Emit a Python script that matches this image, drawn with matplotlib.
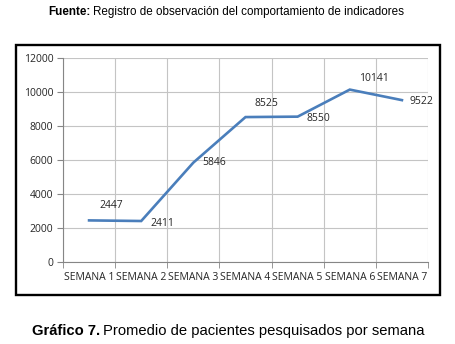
import matplotlib
matplotlib.use('Agg')
import matplotlib.pyplot as plt
from matplotlib.patches import Rectangle
import numpy as np

semanas = ['SEMANA 1', 'SEMANA 2', 'SEMANA 3', 'SEMANA 4',
           'SEMANA 5', 'SEMANA 6', 'SEMANA 7']
promedio = [2447, 2411, 5846, 8525, 8550, 10141, 9522]
yticks = [0, 2000, 4000, 6000, 8000, 10000, 12000]

# label offsets (points) relative to each data point
label_dx = [16, 15, 15, 15, 15, 17, 14]
label_dy = [11, -2, 0, 10, -1, 8, -1]

_LINE = '#4a7ebb'
_GRID = '#c4c4c4'
_AXIS = '#868686'
_TEXT = '#262626'

fig = plt.figure(figsize=(4.55, 3.44), dpi=100)
fig.patch.set_facecolor('white')

chart_font = ['Open Sans', 'DejaVu Sans']
title_font = ['Liberation Sans', 'DejaVu Sans']


def _two_part(x_px, y_px, bold, rest, size):
    """Bold lead-in followed by regular text, left aligned at a pixel spot."""
    y = 1 - y_px / 344
    t = fig.text(x_px / 455, y, bold, ha='left', va='center', fontsize=size,
                 fontweight='bold', family=title_font, color='black')
    fig.canvas.draw()
    bb = t.get_window_extent()
    fig.text(bb.x1 / fig.bbox.width + 3 / 455, y, rest, ha='left',
             va='center', fontsize=size, family=title_font, color='black')


# chart frame
fig.patches.append(Rectangle((16 / 455, 1 - 295 / 344), 424 / 455, 250 / 344,
                             transform=fig.transFigure, fill=False,
                             edgecolor='black', linewidth=1.7, zorder=0))

ax = fig.add_axes([63 / 455, 1 - 262 / 344, 365 / 455, 204 / 344])
x = np.arange(len(semanas))
ax.plot(x, promedio, color=_LINE, linewidth=1.9, solid_joinstyle='miter', zorder=3)

for xi, v, dx, dy in zip(x, promedio, label_dx, label_dy):
    ax.annotate(str(v), (xi, v), xytext=(dx, dy), textcoords='offset points',
                ha='center', va='center', fontsize=7.5, color=_TEXT,
                family=chart_font)

ax.set_xlim(-0.5, len(semanas) - 0.5)
ax.set_ylim(0, 12000)
ax.set_yticks(yticks)
ax.set_yticklabels([str(v) for v in yticks], family=chart_font, fontsize=7.5,
                   color=_TEXT)
ax.set_xticks(x)
ax.set_xticklabels(semanas, family=chart_font, fontsize=7.5, color=_TEXT)
ax.set_xticks(np.arange(len(semanas) + 1) - 0.5, minor=True)

ax.grid(axis='y', which='major', color=_GRID, linewidth=0.8)
ax.grid(axis='x', which='minor', color=_GRID, linewidth=0.8)
ax.set_axisbelow(True)
ax.tick_params(axis='x', which='major', length=0, pad=7)
ax.tick_params(axis='x', which='minor', length=4, color=_AXIS, direction='out')
ax.tick_params(axis='y', length=4, color=_AXIS, pad=3)

for side in ('top', 'right'):
    ax.spines[side].set_visible(False)
for side in ('left', 'bottom'):
    ax.spines[side].set_color(_AXIS)
    ax.spines[side].set_linewidth(0.8)

_two_part(48, 12, 'Fuente:',
          'Registro de observación del comportamiento de indicadores', 8.4)
_two_part(32, 331, 'Gráfico 7.',
          'Promedio de pacientes pesquisados por semana', 10.6)

fig.savefig('out.png', dpi=100, facecolor='white')
plt.close(fig)
